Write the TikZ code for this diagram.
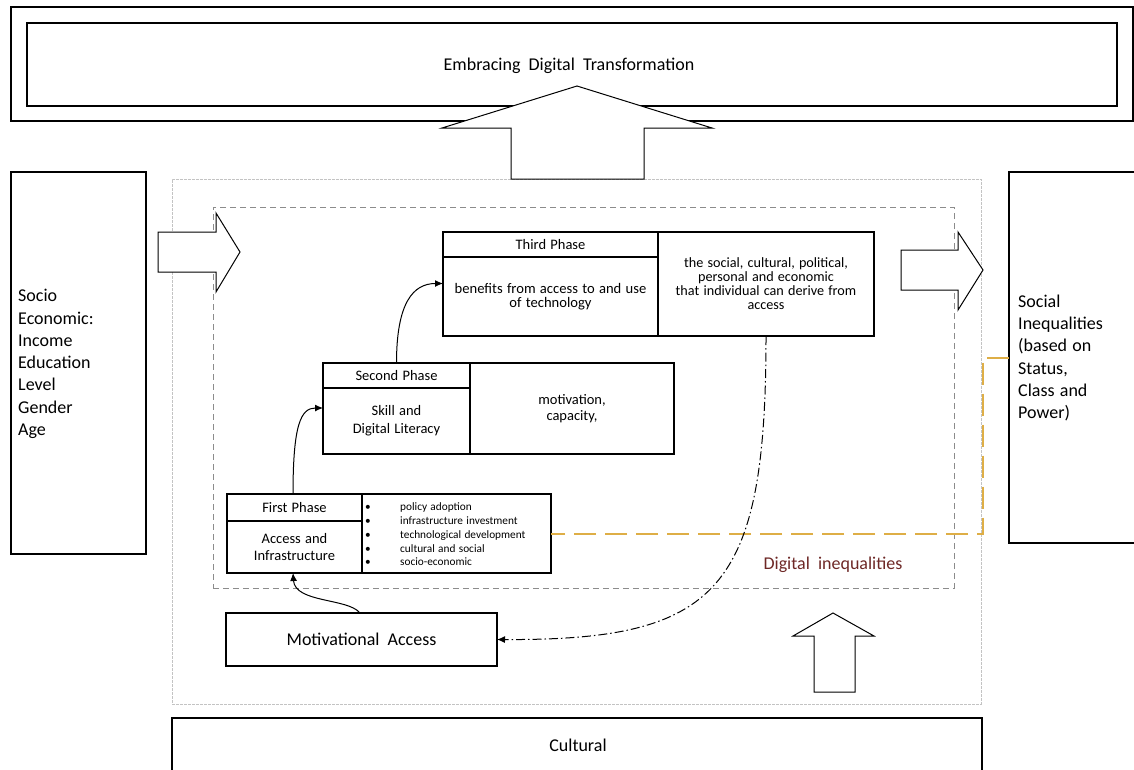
\documentclass[tikz,border=0pt]{standalone}
\usepackage{fontspec}
\setmainfont{Carlito}[WordSpace=1.3]
\newfontfamily\widefont{Carlito}[WordSpace=2]
\usetikzlibrary{arrows.meta,calc}
\definecolor{orangeline}{RGB}{222,174,70}
\definecolor{brownred}{RGB}{110,40,38}
\definecolor{graybound}{RGB}{195,195,195}
\definecolor{graydash}{RGB}{140,140,140}
\begin{document}
\begin{tikzpicture}[x=1pt,y=-1pt,
  box/.style={draw=black, line width=1.1pt, fill=white, inner sep=0pt, outer sep=0pt, anchor=north west},
  bigtext/.style={font=\widefont\fontsize{18}{22.3}\selectfont},
  phasetext/.style={font=\fontsize{14.5}{17.7}\selectfont, align=center},
  smalltext/.style={font=\fontsize{14.2}{14}\selectfont, align=center},
  bullettext/.style={font=\fontsize{11.3}{13.8}\selectfont, align=left, anchor=west, inner sep=0pt},
  bigarrow/.style={draw=black, line width=1pt, fill=white, line join=miter},
  conn/.style={draw=black, line width=1pt, -{Latex[length=8pt,width=7pt]}},
  dashdot/.style={draw=black, line width=1pt, dash pattern=on 9pt off 3pt on 1.5pt off 3pt, -{Latex[length=8pt,width=7pt]}},
  orangedash/.style={draw=orangeline, line width=2pt, dash pattern=on 22pt off 9pt},
  region/.style={inner sep=0pt, outer sep=0pt, anchor=north west}
]
\useasboundingbox (0,0) rectangle (1134,769);
\fill[white] (0,0) rectangle (1134,769);

% top
\node[box, minimum width=1122pt, minimum height=114pt] (topouter) at (11,7) {};
\node[box, minimum width=1090pt, minimum height=83pt, bigtext] (EDT) at (27,23) {};
\node[bigtext] (EDTtext) at (569,66) {Embracing Digital Transformation};

% regions
\node[region, draw=graybound, line width=0.8pt, dash pattern=on 3pt off 1pt, minimum width=809pt, minimum height=525pt] (outerregion) at (172,179) {};
\node[region, draw=graydash, line width=0.9pt, dash pattern=on 6pt off 4pt, minimum width=741pt, minimum height=381pt] (innerregion) at (213,207) {};

% big arrows
\draw[bigarrow] (511,179) -- (511,128) -- (442,128) -- (577,86) -- (712,128) -- (644,128) -- (644,179) -- cycle;
\draw[bigarrow] (158,232) -- (216,232) -- (216,213) -- (240,252) -- (216,292) -- (216,272) -- (158,272) -- cycle;
\draw[bigarrow] (901,250) -- (958,250) -- (958,232) -- (983,270) -- (958,310) -- (958,290) -- (901,290) -- cycle;
\draw[bigarrow] (814,692) -- (814,636) -- (793,636) -- (833,613) -- (874,636) -- (855,636) -- (855,692) -- cycle;

% side boxes
\node[box, minimum width=135pt, minimum height=382pt] (SE) at (11,172) {};
\node[font=\fontsize{18}{22.3}\selectfont, align=left, anchor=west, inner sep=0pt] (SEtext) at (18,364) {Socio\\Economic:\\Income\\Education\\Level\\Gender\\Age};
\node[box, minimum width=140pt, minimum height=371pt] (SI) at (1009,172) {};
\node[font=\fontsize{18}{22.3}\selectfont, align=left, anchor=west, inner sep=0pt] (SItext) at (1018,358) {Social\\Inequalities\\(based on\\Status,\\Class and\\Power)};

% third phase
\node[box, minimum width=215pt, minimum height=25pt, phasetext] (H3) at (443,232) {Third Phase};
\node[box, minimum width=215pt, minimum height=79pt, smalltext, font=\fontsize{14.6}{14}\selectfont] (B3) at (443,257) {benefits from access to and use\\of technology};
\node[box, minimum width=216pt, minimum height=104pt] (R3) at (658,232) {};
\node[smalltext, inner sep=0pt] (R3text) at (766,284) {the social, cultural, political,\\personal and economic\hspace*{52pt}\\that individual can derive from\hspace*{26pt}\\access};

% second phase
\node[box, minimum width=147pt, minimum height=25pt, phasetext] (H2) at (323,363) {Second Phase};
\node[box, minimum width=147pt, minimum height=66pt, phasetext] (B2) at (323,388) {Skill and\\Digital Literacy};
\node[box, minimum width=204pt, minimum height=91pt, font=\fontsize{14.5}{15.5}\selectfont, align=center] (R2) at (470,363) {motivation,\\capacity,};

% first phase
\node[box, minimum width=135pt, minimum height=27pt, phasetext] (H1) at (227,494) {First Phase};
\node[box, minimum width=135pt, minimum height=52pt, phasetext] (B1) at (227,521) {Access and\\Infrastructure};
\node[box, minimum width=189pt, minimum height=79pt] (R1) at (362,494) {};
\node[bullettext] (R1list) at (365,534.5) {\makebox[35pt][l]{•}policy adoption\\\makebox[35pt][l]{•}infrastructure investment\\\makebox[35pt][l]{•}technological development\\\makebox[35pt][l]{•}cultural and social\\\makebox[35pt][l]{•}socio-economic};

% motivational access
\node[box, minimum width=271pt, minimum height=53pt, bigtext] (MA) at (226,613) {Motivational Access};

% cultural
\node[box, minimum width=810pt, minimum height=80pt] (CU) at (172,718) {};
\node[bigtext] (CUtext) at (578,745) {Cultural};

% digital inequalities label
\node[bigtext, text=brownred] (DI) at (833,565) {Digital inequalities};

% connectors
\draw[orangedash] (SI.west) -- (983,357.5) |- (R1.east);
\draw[conn] ([xshift=-1.5pt]H1.north) .. controls +(0,-70) and +(-22,0) .. ([yshift=13pt]B2.west);
\draw[conn] (H2.north) .. controls +(0,-60) and +(-30,0) .. ([yshift=13pt]B3.west);
\draw[conn] ([xshift=-1.5pt]MA.north) .. controls +(-12,-15) and +(2,30) .. ([xshift=-1.5pt]B1.south);
\draw[dashdot] (R3.south) .. controls +(0,254) and +(222,1) .. (MA.east);
\end{tikzpicture}
\end{document}
